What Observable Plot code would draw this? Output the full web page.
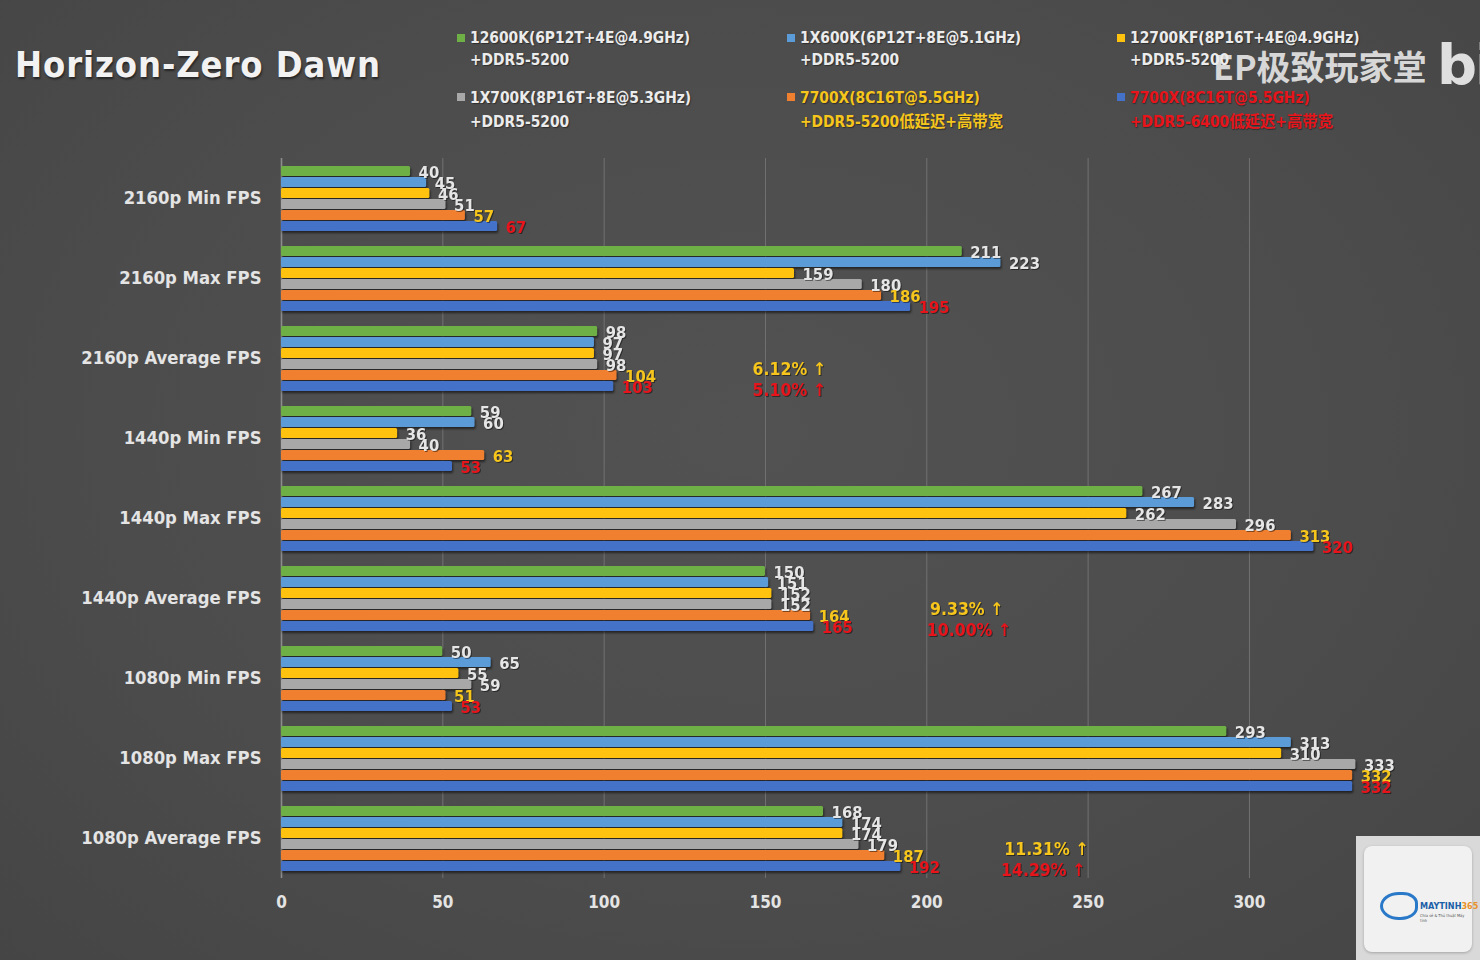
<!DOCTYPE html>
<html>
<head>
<meta charset="utf-8">
<script src="https://cdn.jsdelivr.net/npm/d3@7"></script>
<script src="https://cdn.jsdelivr.net/npm/@observablehq/plot@0.6"></script>
<style>
  html, body { margin: 0; padding: 0; background: #4c4c4c; }
  #wrap { position: relative; width: 1480px; height: 960px; overflow: hidden;
    background: radial-gradient(ellipse at 50% 45%, #525252 0%, #4c4c4c 60%, #454545 100%);
    font-family: "DejaVu Sans Condensed", "DejaVu Sans", "Noto Sans CJK SC", sans-serif; font-weight: bold; }
  #chart { position: absolute; left: 0; top: 0; }
  #chart svg text { font-weight: bold; }
  #chart [aria-label^="fy-axis"] text { font-size: 18.3px; fill: #e4e4e4; }
  #chart [aria-label^="x-axis"] text { font-size: 17px; fill: #e4e4e4; }
  #chart g[aria-label="bar"] { filter: drop-shadow(1px 2px 1px rgba(0,0,0,0.55)); }
  #chart g[aria-label="text"] { filter: drop-shadow(1px 1px 0.5px rgba(0,0,0,0.45)); }
  .title { position: absolute; left: 15px; top: 42px; font-size: 36px; color: #f2f2f2; letter-spacing: 0.9px;
    text-shadow: 1px 2px 2px rgba(0,0,0,0.5); line-height: 46px; white-space: nowrap; }
  .leg { position: absolute; font-size: 15.4px; line-height: 22px; white-space: nowrap; text-shadow: 1px 1px 1px rgba(0,0,0,0.4); }
  .leg .sw { position: absolute; left: -13px; top: 7px; width: 8px; height: 8px; }
  .wm { position: absolute; left: 1213px; top: 44px; font-size: 34px; color: rgba(236,236,236,0.88); white-space: nowrap;
    font-family: "Noto Sans CJK SC", "DejaVu Sans", sans-serif; font-weight: bold; line-height: 44px; }
  .bi { position: absolute; left: 1437px; top: 30px; font-size: 56px; color: rgba(240,240,240,0.9); line-height: 70px;
    font-family: "DejaVu Sans", sans-serif; font-weight: bold; letter-spacing: -2px; }
  .logo { position: absolute; left: 1356px; top: 836px; width: 124px; height: 124px; background: #d9d9d9; }
  .logo .in { position: absolute; left: 8px; top: 10px; width: 108px; height: 106px; border-radius: 8px; background: #f1f1f1;
    box-shadow: 0 1px 3px rgba(0,0,0,0.25); }
  .logo .t { position: absolute; left: 56px; top: 55px; font-size: 9px; color: #1c5fa8; font-family: "DejaVu Sans Condensed", sans-serif; }
  .logo .t span { color: #e8912b; }
  .logo .s { position: absolute; left: 56px; top: 67px; font-size: 4px; color: #555; font-weight: normal; }
  .logo .ic { position: absolute; left: 16px; top: 46px; width: 32px; height: 22px; border: 3px solid #2a78c8; border-radius: 50% 40% 45% 50%; }
</style>
</head>
<body>
<div id="wrap">
  <div id="chart"></div>
  <div class="title">Horizon-Zero Dawn</div>
  <div id="legend"></div>
  <div class="wm">EP极致玩家堂</div>
  <div class="bi">bi</div>
  <div class="logo"><div class="in"><div class="ic"></div><div class="t">MAYTINH<span>365</span></div><div class="s">Chia sẻ & Thủ thuật Máy tính</div></div></div>
</div>
<script>
// ---- data ----
const categories = [
  "2160p Min FPS", "2160p Max FPS", "2160p Average FPS",
  "1440p Min FPS", "1440p Max FPS", "1440p Average FPS",
  "1080p Min FPS", "1080p Max FPS", "1080p Average FPS"
];
const series = ["12600K", "1X600K", "12700KF", "1X700K", "7700X DDR5-5200", "7700X DDR5-6400"];
const legendLine1 = [
  "12600K(6P12T+4E@4.9GHz)", "1X600K(6P12T+8E@5.1GHz)", "12700KF(8P16T+4E@4.9GHz)",
  "1X700K(8P16T+8E@5.3GHz)", "7700X(8C16T@5.5GHz)", "7700X(8C16T@5.5GHz)"
];
const legendLine2 = [
  "+DDR5-5200", "+DDR5-5200", "+DDR5-5200",
  "+DDR5-5200", "+DDR5-5200低延迟+高带宽", "+DDR5-6400低延迟+高带宽"
];
const v12600K   = [40, 211, 98, 59, 267, 150, 50, 293, 168];
const v1X600K   = [45, 223, 97, 60, 283, 151, 65, 313, 174];
const v12700KF  = [46, 159, 97, 36, 262, 152, 55, 310, 174];
const v1X700K   = [51, 180, 98, 40, 296, 152, 59, 333, 179];
const v7700X5200 = [57, 186, 104, 63, 313, 164, 51, 332, 187];
const v7700X6400 = [67, 195, 103, 53, 320, 165, 53, 332, 192];
const seriesValues = [v12600K, v1X600K, v12700KF, v1X700K, v7700X5200, v7700X6400];
const xTicks = [0, 50, 100, 150, 200, 250, 300];

const barColors = ["#6fb046", "#5b9bd8", "#ffc20e", "#a8a8a8", "#f07f30", "#4472c8"];
const labelColors = ["#e6e6e6", "#e6e6e6", "#e6e6e6", "#e6e6e6", "#f6c61c", "#e8141c"];
const legendTextColors = ["#ececec", "#ececec", "#ececec", "#ececec", "#f6c61c", "#e8141c"];

// gain annotations
const annCategories = ["2160p Average FPS", "1440p Average FPS", "1080p Average FPS"];
const annGain5200 = ["6.12% ↑", "9.33% ↑", "11.31% ↑"];
const annGain6400 = ["5.10% ↑", "10.00% ↑", "14.29% ↑"];
const annX5200 = [146, 201, 224];
const annX6400 = [146, 200, 223];

// ---- build tables ----
const rows = categories.flatMap((c, i) => series.map((s, j) => ({category: c, series: s, idx: j, value: seriesValues[j][i]})));
const ann1 = annCategories.map((c, i) => ({category: c, series: series[4], x: annX5200[i], text: annGain5200[i]}));
const ann2 = annCategories.map((c, i) => ({category: c, series: series[5], x: annX6400[i], text: annGain6400[i]}));

const FONT = '"DejaVu Sans Condensed", "DejaVu Sans", "Noto Sans CJK SC", sans-serif';

const chart = Plot.plot({
  width: 1480, height: 960,
  marginLeft: 281, marginRight: 102, marginTop: 158, marginBottom: 82,
  style: {background: "transparent", color: "#e4e4e4", fontFamily: FONT, fontSize: "16px", overflow: "visible"},
  x: {domain: [0, 340], ticks: xTicks, tickSize: 0, tickPadding: 17, label: null},
  y: {domain: series, axis: null, paddingInner: 0.12, paddingOuter: 0.5},
  fy: {domain: categories, padding: 0, label: null, axis: "left", tickSize: 0, tickPadding: 20},
  color: {type: "identity"},
  marks: [
    Plot.ruleX(xTicks.slice(1), {stroke: "#727272", strokeWidth: 1}),
    Plot.ruleX([0], {stroke: "#8c8c8c", strokeWidth: 1.6}),
    Plot.barX(rows, {x: "value", y: "series", fy: "category", fill: d => barColors[d.idx], rx: 1.5}),
    Plot.text(rows, {x: "value", y: "series", fy: "category", text: d => String(d.value), dx: 8, dy: 1,
      textAnchor: "start", fill: d => labelColors[d.idx], fontSize: 16.5, fontWeight: "bold"}),
    Plot.text(ann1, {x: "x", y: "series", fy: "category", text: "text", dy: -6, textAnchor: "start",
      fill: labelColors[4], fontSize: 17.5, fontWeight: "bold"}),
    Plot.text(ann2, {x: "x", y: "series", fy: "category", text: "text", dy: 4, textAnchor: "start",
      fill: labelColors[5], fontSize: 17.5, fontWeight: "bold"})
  ]
});
document.getElementById("chart").appendChild(chart);

// ---- legend (3 columns x 2 rows) ----
const legendCols = [470, 800, 1130];
const legendRows = [27, 86];
const legend = document.getElementById("legend");
series.forEach((s, i) => {
  const col = i < 3 ? i : i - 3;
  const row = i < 3 ? 0 : 1;
  const div = document.createElement("div");
  div.className = "leg";
  div.style.left = legendCols[col] + "px";
  div.style.top = legendRows[row] + "px";
  div.style.color = legendTextColors[i];
  div.innerHTML = `<span class="sw" style="background:${barColors[i]}"></span>${legendLine1[i]}<br>${legendLine2[i]}`;
  if (row === 1) div.style.lineHeight = "24px";
  legend.appendChild(div);
});
</script>
</body>
</html>
